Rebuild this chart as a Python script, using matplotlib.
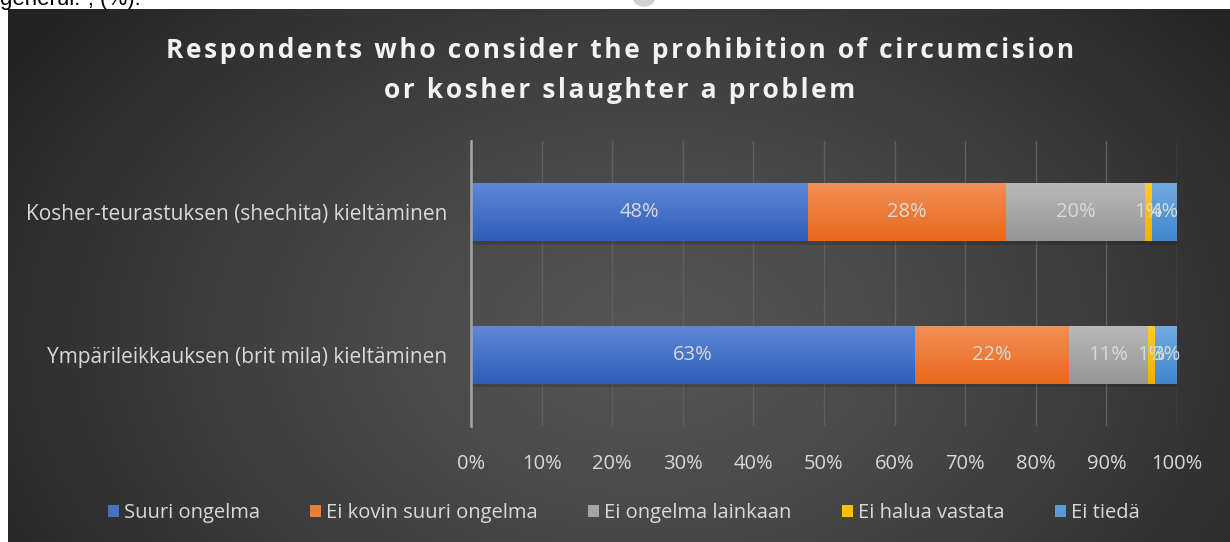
import numpy as np
import matplotlib
matplotlib.use('Agg')
import matplotlib.pyplot as plt
from matplotlib.patches import Patch, Rectangle, Circle
from matplotlib.colors import to_rgb

plt.rcParams['font.family'] = ['Open Sans', 'DejaVu Sans']

# data (%), bottom-to-top order of the y axis
categories = ['Ympärileikkauksen (brit mila) kieltäminen',
              'Kosher-teurastuksen (shechita) kieltäminen']
series = ['Suuri ongelma', 'Ei kovin suuri ongelma', 'Ei ongelma lainkaan',
          'Ei halua vastata', 'Ei tiedä']
suuri = [62.9, 47.7]
ei_kovin = [21.8, 28.1]
ei_lainkaan = [11.2, 19.7]
ei_halua = [1.0, 1.0]
ei_tieda = [3.1, 3.5]
xticks = [0, 10, 20, 30, 40, 50, 60, 70, 80, 90, 100]

values = [suuri, ei_kovin, ei_lainkaan, ei_halua, ei_tieda]
base_colors = ['#4472C4', '#ED7D31', '#A5A5A5', '#FFC000', '#5B9BD5']
grad_top = ['#5f87d6', '#f38e57', '#b8b8b8', '#ffca2e', '#72aae0']
grad_bot = ['#2f5eb8', '#e8691c', '#969696', '#efb300', '#3f88cc']

W, H = 1230, 542
fig = plt.figure(figsize=(W / 100, H / 100), dpi=100, facecolor='white')

# cropped caption line of the surrounding document
fig.text(0.0, 1 - 5 / H, 'generui.\u201d, (%).', fontsize=16, color='black',
         va='baseline', ha='left', family=['Liberation Sans', 'DejaVu Sans'])
fig.patches.append(Circle((644, H + 6), 12, transform=None, color='#d0d0d0',
                          zorder=0))

# dark radial background of the chart area
bg = fig.add_axes([8 / W, 0, 1 - 8 / W, 1 - 9 / H], zorder=-1)
yy, xx = np.mgrid[0:533, 0:1222]
r = np.sqrt(((xx - 640) / 760.0) ** 2 + ((yy - 330) / 520.0) ** 2)
shade = 0.335 - 0.195 * np.clip(r, 0, 1) ** 1.3
bg.imshow(np.dstack([shade] * 3), aspect='auto', extent=(0, 1, 0, 1))
bg.axis('off')

ax = fig.add_axes([471 / W, 1 - 426 / H, 706 / W, 285 / H])
ax.set_facecolor('none')
ypos = np.arange(len(categories))
bh = 0.407

left = np.zeros(len(categories))
for vals, c0, c1, base in zip(values, grad_top, grad_bot, base_colors):
    for i, v in enumerate(vals):
        y0 = ypos[i] - bh / 2
        # soft shadow under the bar
        ax.add_patch(Rectangle((left[i] + 0.2, y0 - 0.025), v, bh,
                               color='black', alpha=0.15, lw=0, zorder=1))
        rect = Rectangle((left[i], y0), v, bh, color=base, lw=0, zorder=2)
        ax.add_patch(rect)
        t = np.linspace(0, 1, 32)[:, None]
        grad = (1 - t) * np.array(to_rgb(c0)) + t * np.array(to_rgb(c1))
        im = ax.imshow(grad[:, None, :], aspect='auto', origin='upper',
                       extent=(left[i], left[i] + v, y0, y0 + bh), zorder=3)
        im.set_clip_path(rect)
        ax.text(left[i] + v / 2, ypos[i], f'{v:.0f}%', ha='center',
                va='center', color='#d9d9d9', fontsize=14.5, zorder=4)
    left += np.array(vals)

ax.set_xlim(0, 100)
ax.set_ylim(-0.5, 1.5)
ax.set_xticks(xticks)
ax.set_xticklabels([f'{x}%' for x in xticks])
ax.set_yticks(ypos)
ax.set_yticklabels(categories)
ax.tick_params(axis='x', length=0, pad=20, labelsize=14.5, labelcolor='#d9d9d9')
ax.tick_params(axis='y', length=0, pad=17, labelsize=15, labelcolor='#d9d9d9')
ax.grid(axis='x', color='#5f5f5f', lw=1)
ax.set_axisbelow(True)
for s in ['top', 'right', 'bottom']:
    ax.spines[s].set_visible(False)
ax.spines['left'].set_color('#a6a6a6')
ax.spines['left'].set_linewidth(1.8)
ax.spines['left'].set_zorder(5)

title = ['Respondents who consider the prohibition of circumcision',
         'or kosher slaughter a problem']
for k, line in enumerate(title):
    fig.text(620 / W, 1 - (51 + 39 * k) / H, '\u200a'.join(line),
             ha='center', va='center', fontsize=19, fontweight='bold',
             color='#f2f2f2')

handles = [Patch(facecolor=c, edgecolor='none') for c in base_colors]
fig.legend(handles, series, loc='center', bbox_to_anchor=(0.507, 1 - 513 / H),
           ncol=5, frameon=False, fontsize=14.5, labelcolor='#d9d9d9',
           handlelength=0.55, handleheight=0.55, handletextpad=0.25,
           columnspacing=2.5)

fig.savefig('out.png', dpi=100, facecolor='white')
